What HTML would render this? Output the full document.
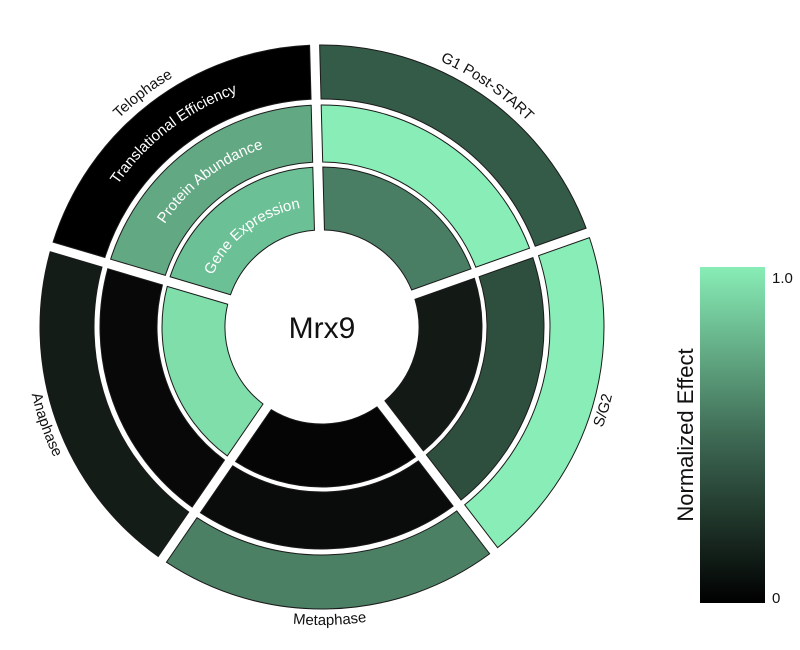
<!DOCTYPE html>
<html><head><meta charset="utf-8"><style>
html,body{margin:0;padding:0;background:#fff;overflow:hidden;width:800px;height:650px;}
svg{display:block;font-family:"Liberation Sans",sans-serif;}
</style></head><body>
<svg width="800" height="650" viewBox="0 0 800 650">
<defs>
<path id="w1" d="M5,-159.92 A160 160 0 0 1 150.55,-54.19 L90.58,-34.68 A97 97 0 0 0 4.99,-96.87 Z"/>
<path id="w2" d="M5,-221.94 A222 222 0 0 1 209.54,-73.34 L155.3,-55.74 A165 165 0 0 0 5.01,-164.92 Z"/>
<path id="w3" d="M5.02,-281.95 A282 282 0 0 1 266.61,-91.9 L215.24,-75.2 A228 228 0 0 0 5.01,-227.94 Z"/>
<path id="t291" d="M-252.0,-145.5 A291 291 0 0 1 252.0,-145.5"/>
<path id="b298" d="M-258.1,149 A298 298 0 0 0 258.1,149"/>
<path id="t249" d="M-215.6,-124.5 A249 249 0 0 1 215.6,-124.5"/>
<path id="t188" d="M-162.8,-94 A188 188 0 0 1 162.8,-94"/>
<path id="t121" d="M-104.8,-60.5 A121 121 0 0 1 104.8,-60.5"/>
<linearGradient id="cb" x1="0" y1="0" x2="0" y2="1">
<stop offset="0" stop-color="#88edb6"/><stop offset="0.5" stop-color="#3f6b55"/><stop offset="1" stop-color="#000"/>
</linearGradient>
</defs>
<g transform="translate(322,327) rotate(-1.5)" stroke="#1a1a1a" stroke-width="1">
<g><use href="#w1" fill="#4a7e64"/><use href="#w2" fill="#88edb6"/><use href="#w3" fill="#345a48"/></g>
<g transform="rotate(72)"><use href="#w1" fill="#131a16"/><use href="#w2" fill="#2f4f3e"/><use href="#w3" fill="#88edb6"/></g>
<g transform="rotate(144)"><use href="#w1" fill="#050505"/><use href="#w2" fill="#0a0c0b"/><use href="#w3" fill="#4b8064"/></g>
<g transform="rotate(216)"><use href="#w1" fill="#80deab"/><use href="#w2" fill="#080808"/><use href="#w3" fill="#141c18"/></g>
<g transform="rotate(288)"><use href="#w1" fill="#6cc096"/><use href="#w2" fill="#62a883"/><use href="#w3" fill="#000"/></g>
</g>
<g font-size="15" fill="#111">
<text transform="translate(322,327) rotate(34.5)"><textPath href="#t291" startOffset="50%" text-anchor="middle">G1 Post-START</textPath></text>
<text transform="translate(322,327) rotate(-73.5)"><textPath href="#b298" startOffset="50%" text-anchor="middle">S/G2</textPath></text>
<text transform="translate(322,327) rotate(322.5)"><textPath href="#t291" startOffset="50%" text-anchor="middle">Telophase</textPath></text>
<text transform="translate(322,327) rotate(-1.5)"><textPath href="#b298" startOffset="50%" text-anchor="middle">Metaphase</textPath></text>
<text transform="translate(322,327) rotate(70.5)"><textPath href="#b298" startOffset="50%" text-anchor="middle">Anaphase</textPath></text>
</g>
<g font-size="15" fill="#fff">
<text transform="translate(322,327) rotate(322.5)"><textPath href="#t249" startOffset="50%" text-anchor="middle">Translational Efficiency</textPath></text>
<text transform="translate(322,327) rotate(322.5)"><textPath href="#t188" startOffset="50%" text-anchor="middle">Protein Abundance</textPath></text>
<text transform="translate(322,327) rotate(322.5)"><textPath href="#t121" startOffset="50%" text-anchor="middle">Gene Expression</textPath></text>
</g>
<text x="322" y="338" font-size="30" text-anchor="middle" fill="#111">Mrx9</text>
<rect x="700" y="267" width="65" height="336" fill="url(#cb)"/>
<text x="772" y="283" font-size="15" fill="#111">1.0</text>
<text x="772" y="603" font-size="15" fill="#111">0</text>
<text transform="translate(693,435) rotate(-90)" font-size="22" text-anchor="middle" fill="#111">Normalized Effect</text>
</svg>
</body></html>
